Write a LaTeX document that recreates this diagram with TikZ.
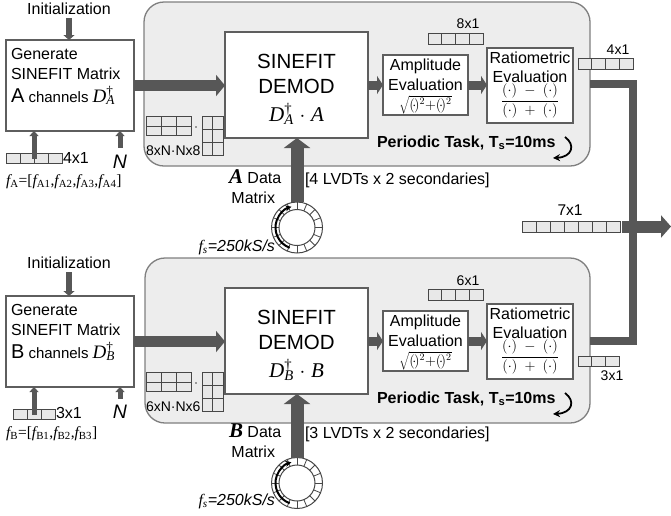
\documentclass[tikz,border=0pt]{standalone}
\usepackage{fontspec}
\setmainfont{Liberation Sans}
\newfontfamily\tms{Liberation Serif}
\usetikzlibrary{arrows.meta,calc}

\definecolor{arrowgray}{HTML}{575757}
\definecolor{panelfill}{HTML}{EDEDED}
\definecolor{panelline}{HTML}{7F7F7F}
\definecolor{boxline}{HTML}{5E5E5E}
\definecolor{cellfill}{HTML}{E8E8E8}
\definecolor{cellline}{HTML}{474747}

\newcommand\fsz[1]{\fontsize{#1}{#1}\selectfont}
\newcommand\fsym[1]{{\tms\itshape f\textsubscript{\upshape #1}}}
\newcommand\Dsym[1]{{\tms\itshape D\rlap{\textsuperscript{\upshape\textdagger}}\textsubscript{#1}}}
\newcommand\ampformula{\fsz{14.4}$\sqrt{(\!\cdot\!)^2{+}(\!\cdot\!)^2}$}
\newcommand\ratioformula{\fsz{14.4}$\displaystyle\frac{(\cdot)\;-\;(\cdot)}{(\cdot)\;+\;(\cdot)}$}

% a row/column grid of cells: name, centre x, centre y, columns, rows, cell width, cell height
\newcommand\cellgrid[7]{%
  \pgfmathsetmacro\cgW{#4*#6}%
  \pgfmathsetmacro\cgH{#5*#7}%
  \node[gridbox, minimum width=\cgW pt, minimum height=\cgH pt] (#1) at (#2,#3) {};
  \pgfmathtruncatemacro\cgC{#4-1}%
  \pgfmathtruncatemacro\cgR{#5-1}%
  \ifnum\cgC>0
    \foreach \k in {1,...,\cgC}
      \draw[gridline] ($(#1.north west)+(\k*#6,0)$) -- ($(#1.south west)+(\k*#6,0)$);
  \fi
  \ifnum\cgR>0
    \foreach \k in {1,...,\cgR}
      \draw[gridline] ($(#1.north west)+(0,\k*#7)$) -- ($(#1.north east)+(0,\k*#7)$);
  \fi
}

% circular sample buffer with its rotation arrow
\newcommand\ringbuf[3]{%
  \node[circle, draw=cellline, fill=white, line width=1pt, minimum size=51pt] (#1) at (#2,#3) {};
  \draw[cellline, line width=1pt] (#1.center) circle[radius=18];
  \foreach \a in {0,22.5,...,337.5}
    \draw[cellline, line width=0.8pt] ($(#1.center)+(\a:18)$) -- ($(#1.center)+(\a:25.5)$);
  \draw[line width=2pt, -{Stealth[length=6pt,width=6pt]}]
    ($(#1.center)+(110:21.5)$) arc[start angle=110, end angle=255, radius=21.5];
}

\begin{document}
\begin{tikzpicture}[x=1pt, y=-1pt,
  every node/.style={inner sep=0pt, outer sep=0pt},
  panel/.style={draw=panelline, fill=panelfill, line width=1.3pt, rounded corners=20pt, anchor=north west},
  blk/.style={draw=boxline, fill=white, line width=1.3pt, anchor=north west},
  gridbox/.style={draw=cellline, fill=cellfill, line width=1pt},
  gridline/.style={draw=cellline, line width=1pt},
  bigarrow/.style={draw=arrowgray, line width=11pt, -{Triangle[width=21pt,length=9pt]}},
  midarrow/.style={draw=arrowgray, line width=9pt, -{Triangle[width=18pt,length=6pt]}},
  dataarrow/.style={draw=arrowgray, line width=13pt, -{Triangle[width=26pt,length=10pt]}},
  initarrow/.style={draw=arrowgray, line width=6.5pt, -{Triangle[width=11pt,length=5pt]}},
  inarrow/.style={draw=arrowgray, line width=5pt, -{Triangle[width=9pt,length=5pt]}},
  busline/.style={draw=arrowgray, line width=8pt},
  outarrow/.style={draw=arrowgray, line width=12pt, -{Triangle[width=22pt,length=10pt]}},
  cyclearrow/.style={draw=black, line width=1.8pt, -{Stealth[length=7pt,width=7pt]}}
]
\useasboundingbox (0,0) rectangle (671,515);

% ================= channel A =================
\node[panel, minimum width=446pt, minimum height=164pt] (pA) at (144,2) {};
\node[blk, minimum width=128pt, minimum height=91pt] (gA) at (6,40) {};
\node[blk, minimum width=143pt, minimum height=106pt] (dA) at (225,32) {};
\node[blk, minimum width=85pt, minimum height=60pt] (aA) at (383,55) {};
\node[blk, minimum width=86pt, minimum height=75pt] (rA) at (487,48) {};

\node[anchor=base] (iA) at (69,14) {\fsz{16}Initialization};
\draw[initarrow] ([yshift=-4pt]iA.south) -- (iA.south |- gA.north);

\node[anchor=base west] (gA1) at (11,59) {\fsz{16}Generate};
\node[anchor=base west] (gA2) at (11,79) {\fsz{16}SINEFIT Matrix};
\node[anchor=base west] (gA3) at (11,102) {\fsz{20}A\fsz{15} channels \fsz{19}\Dsym{A}};

\node[anchor=base] (dA1) at (296.5,68) {\fsz{20.5}SINEFIT};
\node[anchor=base] (dA2) at (296.5,93) {\fsz{20.5}DEMOD};
\node[anchor=base] (dA3) at (296.5,121) {\fsz{21}\Dsym{A}$\;\cdot\;${\tms\itshape A}};

\node[anchor=base] (aA1) at (425.5,70) {\fsz{16}Amplitude};
\node[anchor=base] (aA2) at (425.5,90) {\fsz{16}Evaluation};
\node[anchor=base] (aA3) at (425.5,109) {\ampformula};

\node[anchor=base] (rA1) at (530,63) {\fsz{16}Ratiometric};
\node[anchor=base] (rA2) at (530,82) {\fsz{16}Evaluation};
\node (rA3) at (530,101) {\ratioformula};

\node[anchor=base west] (tA) at (377,147) {\fsz{16}\bfseries Periodic Task, T\textsubscript{s}=10ms};
\draw[cyclearrow] (565,137) .. controls (576,145) and (572,157) .. (553,158);

\draw[bigarrow] (gA.east) -- (gA.east -| dA.west);
\draw[midarrow] (dA.east) -- (dA.east -| aA.west);
\draw[midarrow] (aA.east) -- (aA.east -| rA.west);

\cellgrid{vA}{34}{158.5}{4}{1}{14}{10}
\node[anchor=base west] (vAl) at (63,163) {\fsz{16}4x1};
\draw[inarrow] (vA.center) -- (vA.center |- gA.south);
\node[anchor=base] (nA) at (120,168) {\fsz{19.5}\itshape N};
\draw[inarrow] ([yshift=7pt]nA.north) -- (nA.north |- gA.south);
\node[anchor=base west] (fA) at (6,185) {\fsz{15.5}\fsym{A}{\tms=[}\fsym{A1}{\tms,}\fsym{A2}{\tms,}\fsym{A3}{\tms,}\fsym{A4}{\tms]}};

\cellgrid{mA1}{169}{126}{3}{2}{14.67}{9.75}
\node[circle, fill=cellline, minimum size=1.8pt] (xA) at (196,127) {};
\cellgrid{mA2}{212.5}{135.5}{2}{3}{10.5}{13}
\node[anchor=base west] (mAl) at (146,155) {\fsz{14}8xN·Nx8};

\ringbuf{bA}{297}{227.5}
\draw[dataarrow] (bA.north) -- (bA.north |- dA.south);
\node[anchor=base west] (lA) at (229,183) {\fsz{21}\tms\bfseries\itshape A\normalfont\fsz{16}\ Data};
\node[anchor=base east] (mxA) at (275,203) {\fsz{16}Matrix};
\node[anchor=base east] (fsA) at (275,251) {\fsz{16}\fsym{\itshape s}\textit{=250kS/s}};
\node[anchor=base west] (sA) at (305,184) {\fsz{16}[4 LVDTs x 2 secondaries]};

\cellgrid{vA8}{455.5}{38.5}{4}{1}{13.75}{11}
\node[anchor=base] (vA8l) at (468,28) {\fsz{14}8x1};
\cellgrid{vA4o}{605.5}{64}{4}{1}{13.75}{10.5}
\node[anchor=base] (vA4ol) at (618,54) {\fsz{14}4x1};

% ================= channel B =================
\node[panel, minimum width=445pt, minimum height=165pt] (pB) at (145,258) {};
\node[blk, minimum width=128pt, minimum height=91pt] (gB) at (6,296) {};
\node[blk, minimum width=143pt, minimum height=106pt] (dB) at (225,288) {};
\node[blk, minimum width=85pt, minimum height=60pt] (aB) at (383,311) {};
\node[blk, minimum width=86pt, minimum height=75pt] (rB) at (487,304) {};

\node[anchor=base] (iB) at (69,268) {\fsz{16}Initialization};
\draw[initarrow] ([yshift=-4pt]iB.south) -- (iB.south |- gB.north);

\node[anchor=base west] (gB1) at (11,315) {\fsz{16}Generate};
\node[anchor=base west] (gB2) at (11,335) {\fsz{16}SINEFIT Matrix};
\node[anchor=base west] (gB3) at (11,358) {\fsz{20}B\fsz{15} channels \fsz{19}\Dsym{B}};

\node[anchor=base] (dB1) at (296.5,324) {\fsz{20.5}SINEFIT};
\node[anchor=base] (dB2) at (296.5,349) {\fsz{20.5}DEMOD};
\node[anchor=base] (dB3) at (296.5,377) {\fsz{21}\Dsym{B}$\;\cdot\;${\tms\itshape B}};

\node[anchor=base] (aB1) at (425.5,326) {\fsz{16}Amplitude};
\node[anchor=base] (aB2) at (425.5,346) {\fsz{16}Evaluation};
\node[anchor=base] (aB3) at (425.5,365) {\ampformula};

\node[anchor=base] (rB1) at (530,319) {\fsz{16}Ratiometric};
\node[anchor=base] (rB2) at (530,338) {\fsz{16}Evaluation};
\node (rB3) at (530,357) {\ratioformula};

\node[anchor=base west] (tB) at (377,403) {\fsz{16}\bfseries Periodic Task, T\textsubscript{s}=10ms};
\draw[cyclearrow] (565,393) .. controls (576,401) and (572,413) .. (553,414);

\draw[bigarrow] (gB.east) -- (gB.east -| dB.west);
\draw[midarrow] (dB.east) -- (dB.east -| aB.west);
\draw[midarrow] (aB.east) -- (aB.east -| rB.west);

\cellgrid{vB}{34}{414.5}{3}{1}{14}{10}
\node[anchor=base west] (vBl) at (56,418) {\fsz{16}3x1};
\draw[inarrow] (vB.center) -- (vB.center |- gB.south);
\node[anchor=base] (nB) at (120,418) {\fsz{19.5}\itshape N};
\draw[inarrow] ([yshift=6pt]nB.north) -- (nB.north |- gB.south);
\node[anchor=base west] (fB) at (6,437) {\fsz{15.5}\fsym{B}{\tms=[}\fsym{B1}{\tms,}\fsym{B2}{\tms,}\fsym{B3}{\tms]}};

\cellgrid{mB1}{169}{382}{3}{2}{14.67}{9.75}
\node[circle, fill=cellline, minimum size=1.8pt] (xB) at (196,383) {};
\cellgrid{mB2}{212.5}{391.5}{2}{3}{10.5}{13}
\node[anchor=base west] (mBl) at (146,411) {\fsz{14}6xN·Nx6};

\ringbuf{bB}{297}{483}
\draw[dataarrow] (bB.north) -- (bB.north |- dB.south);
\node[anchor=base west] (lB) at (229,437) {\fsz{21}\tms\bfseries\itshape B\normalfont\fsz{16}\ Data};
\node[anchor=base east] (mxB) at (275,457) {\fsz{16}Matrix};
\node[anchor=base east] (fsB) at (275,505) {\fsz{16}\fsym{\itshape s}\textit{=250kS/s}};
\node[anchor=base west] (sB) at (305,438) {\fsz{16}[3 LVDTs x 2 secondaries]};

\cellgrid{vB6}{455.5}{294.5}{4}{1}{13.75}{11}
\node[anchor=base] (vB6l) at (468,285) {\fsz{14}6x1};
\cellgrid{vB3o}{598.5}{361.5}{3}{1}{13.67}{10.5}
\node[anchor=base] (vB3ol) at (612,380) {\fsz{14}3x1};

% ================= output bus =================
\coordinate (busA) at ($(pA.east)+(43,0)$);
\draw[busline] (pA.east) -- (busA) |- (pB.east);
\cellgrid{v7}{571}{226.5}{7}{1}{14}{11}
\node[anchor=base] (v7l) at (570,215) {\fsz{15.5}7x1};
\coordinate (jn) at (busA |- v7.east);
\coordinate (outR) at (671,226.5);
\draw[outarrow] ([xshift=-11pt]jn) -- (outR);

\end{tikzpicture}
\end{document}
